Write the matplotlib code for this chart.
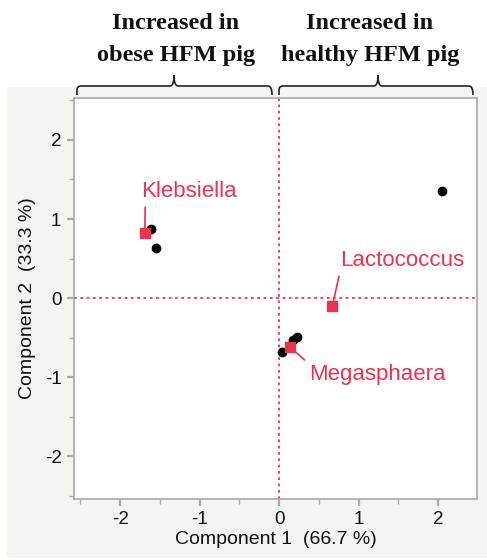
import matplotlib
matplotlib.use("Agg")
import matplotlib.pyplot as plt
from matplotlib.patches import Rectangle, PathPatch
from matplotlib.path import Path
from matplotlib.ticker import MultipleLocator

# Sample scores (black dots)
score_x = [-1.61, -1.55, 0.04, 0.18, 0.22, 2.05]
score_y = [0.87, 0.63, -0.68, -0.53, -0.49, 1.35]

# Genus loadings (red squares) and their label positions
genera = ["Klebsiella", "Lactococcus", "Megasphaera"]
load_x = [-1.69, 0.67, 0.14]
load_y = [0.82, -0.10, -0.62]
label_x = [-1.13, 1.55, 1.24]
label_y = [1.35, 0.48, -0.97]
label_relpos = [(0.04, 0.0), (0.0, 0.0), (0.0, 1.0)]

group_line1 = ["Increased in", "Increased in"]
group_line2 = ["obese HFM pig", "healthy HFM pig"]

RED = "#e8334d"
GREY = "#a8a8a8"
W, H = 487, 560

plt.rcParams["font.family"] = ["Liberation Sans", "DejaVu Sans"]
plt.rcParams["axes.unicode_minus"] = False
fig = plt.figure(figsize=(W / 100, H / 100), dpi=100)

# Beige report panel behind the plot
fig.add_artist(Rectangle((7 / W, 2 / H), 480 / W, 471 / H, transform=fig.transFigure,
                         facecolor="#f4f4ef", edgecolor="none", zorder=-1))

ax = fig.add_axes([74 / W, 1 - 499 / H, 403 / W, 401 / H])
ax.set_facecolor("white")
ax.set_xlim(-2.58, 2.49)
ax.set_ylim(-2.54, 2.53)

ax.axvline(0, color=RED, linestyle=(0, (1.5, 2)), linewidth=1.3, zorder=1)
ax.axhline(0, color=RED, linestyle=(0, (1.5, 2)), linewidth=1.3, zorder=1)

ax.plot(score_x, score_y, "o", color="black", markersize=6, zorder=3)
ax.plot(load_x, load_y, "s", color=RED, markersize=7, zorder=4)

for name, px, py, tx, ty, rp in zip(genera, load_x, load_y, label_x, label_y, label_relpos):
    ax.annotate(name, xy=(px, py), xytext=(tx, ty), color=RED, fontsize=16,
                ha="center", va="center", zorder=5,
                arrowprops=dict(arrowstyle="-", color=RED, lw=1.2, relpos=rp,
                                shrinkA=2, shrinkB=4))

for s in ax.spines.values():
    s.set_color(GREY)
    s.set_linewidth(1.2)

ax.xaxis.set_major_locator(MultipleLocator(1))
ax.xaxis.set_minor_locator(MultipleLocator(0.5))
ax.yaxis.set_major_locator(MultipleLocator(1))
ax.yaxis.set_minor_locator(MultipleLocator(0.5))
ax.tick_params(which="both", direction="out", color=GREY, width=1, labelsize=13.5,
               labelcolor="#111111")
ax.tick_params(which="major", length=5, pad=4)
ax.tick_params(which="minor", length=3.5)
ax.set_xticks([-2, -1, 0, 1, 2])
ax.set_yticks([-2, -1, 0, 1, 2])
for t in ax.xaxis.get_major_ticks() + ax.yaxis.get_major_ticks():
    if t.get_loc() == 0:
        t.tick1line.set_color(RED)
        t.tick1line.set_markeredgewidth(1.6)

ax.set_xlabel("Component 1  (66.7 %)", fontsize=14, labelpad=2, color="#111111")
ax.set_ylabel("Component 2  (33.3 %)", fontsize=14, labelpad=6, color="#111111")

# Group headers with curly braces above the plot (figure pixel coordinates)
over = fig.add_axes([0, 0, 1, 1], zorder=10)
over.set_xlim(0, W)
over.set_ylim(H, 0)
over.axis("off")
over.patch.set_alpha(0)


def brace(x0, x1, xm, y_line, y_end, y_tip):
    r = 4
    verts = [(x0, y_end), (x0, y_line + r), (x0, y_line), (x0 + r, y_line),
             (xm - r, y_line), (xm, y_line), (xm, y_tip),
             (xm, y_line), (xm + r, y_line),
             (x1 - r, y_line), (x1, y_line), (x1, y_end)]
    codes = [Path.MOVETO, Path.LINETO, Path.CURVE3, Path.CURVE3,
             Path.LINETO, Path.CURVE3, Path.CURVE3,
             Path.CURVE3, Path.CURVE3,
             Path.LINETO, Path.CURVE3, Path.CURVE3]
    over.add_patch(PathPatch(Path(verts, codes), facecolor="none",
                             edgecolor="#222222", lw=1.2))


brace(77, 272, 174, 86, 95, 75)
brace(279, 473, 378, 86, 95, 75)

for l1, l2, xc in zip(group_line1, group_line2, [176, 370]):
    for txt, yb in ((l1, 29), (l2, 61)):
        over.text(xc, yb, txt, ha="center", va="baseline", fontsize=17.5,
                  fontweight="bold", family="Liberation Serif", color="#111111")

fig.savefig("out.png", dpi=100)
